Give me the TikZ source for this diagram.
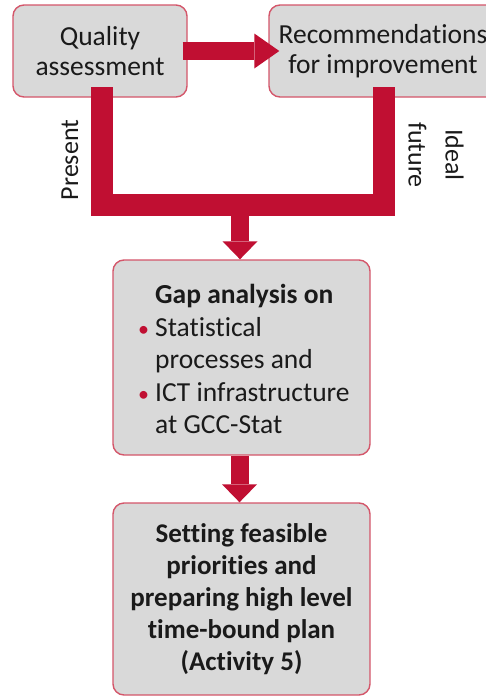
\documentclass[tikz,border=0pt]{standalone}
\usepackage{fontspec}
\setmainfont{Carlito}[Ligatures=NoCommon]
\usetikzlibrary{arrows.meta}
\definecolor{accent}{HTML}{C00F32}
\definecolor{boxline}{HTML}{D4566A}
\definecolor{boxfill}{HTML}{D9D9D9}
\definecolor{ink}{HTML}{1A1A1A}
\tikzset{
  box/.style={draw=boxline, line width=1.4pt, fill=boxfill, rounded corners=11pt,
    inner sep=0pt, text=ink, align=center, font=\fontsize{27.5}{30}\selectfont},
  fork/.style={draw=accent, line width=22pt, line join=miter},
  bigarrow/.style={draw=accent, line width=18pt,
    -{Triangle[width=35pt,length=18pt,line width=0pt]}},
  sidearrow/.style={draw=accent, line width=18pt,
    -{Triangle[width=35pt,length=25pt,line width=0pt]}},
  sidelabel/.style={text=ink, align=center, font=\fontsize{26}{37}\selectfont, inner sep=0pt},
}
\begin{document}
\begin{tikzpicture}[x=1pt,y=-1pt]
\useasboundingbox (0,0) rectangle (486,697);
\fill[white] (0,0) rectangle (486,697);
\begin{scope}
\clip (0,0) rectangle (486,697);
% boxes
\node[box, minimum width=174pt, minimum height=92pt] (qa) at (100,51) {Quality\\assessment};
\node[box, minimum width=228pt, minimum height=92pt] (rec) at (383,51) {Recommendations\\for improvement};
\node[box, minimum width=257pt, minimum height=195pt] (gap) at (241.5,357.5) {};
\node[box, minimum width=257pt, minimum height=192pt, font=\bfseries\fontsize{27}{32}\selectfont] (plan) at (241.5,599)
  {Setting feasible\\priorities and\\preparing high level\\time-bound plan\\(Activity 5)};
\node[anchor=west, align=left, text=ink, inner sep=0pt, font=\fontsize{27.5}{32.5}\selectfont] (gaptext) at (155,359)
  {\textbf{Gap analysis on}\\
   \llap{\textcolor{accent}{\scalebox{0.8}{•}}\hspace{6pt}}Statistical\\
   processes and\\
   \llap{\textcolor{accent}{\scalebox{0.8}{•}}\hspace{6pt}}ICT infrastructure\\
   at GCC-Stat};
% connectors
\coordinate (merge) at (240,205);
\coordinate (qaout) at (101.5,87);
\coordinate (recout) at (384,87);
\draw[fork] (qaout) |- (merge) -| (recout);
\draw[bigarrow] (merge) -- (merge |- gap.north);
\draw[sidearrow] ([xshift=-5pt]qa.east) -- ([xshift=11pt]rec.west);
\draw[bigarrow] ([xshift=-2pt]gap.south) -- ([xshift=-2pt]plan.north);
% labels
\node[sidelabel, rotate=90] (present) at (70,160) {Present};
\node[sidelabel, rotate=-90] (ideal) at (436,155) {Ideal\\future};
\end{scope}
\end{tikzpicture}
\end{document}
